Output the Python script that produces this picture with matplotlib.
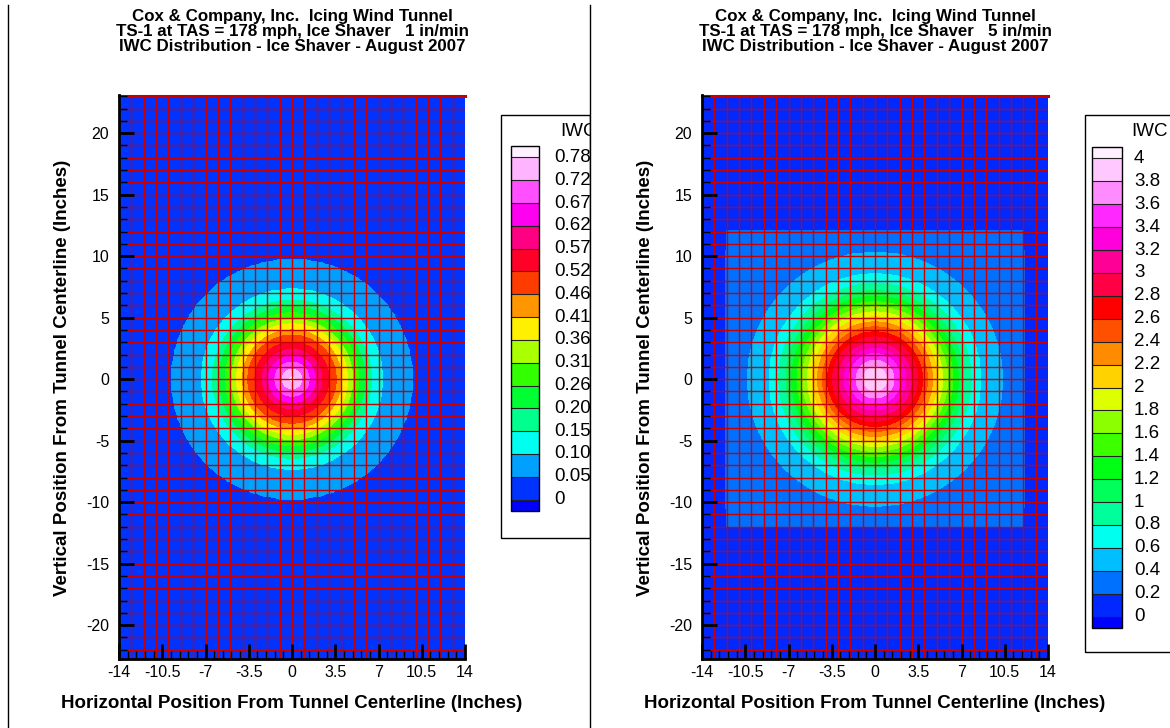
import matplotlib
matplotlib.use("Agg")
import matplotlib.pyplot as plt
import numpy as np
from matplotlib.cm import ScalarMappable
from matplotlib.colors import BoundaryNorm, ListedColormap
from matplotlib.lines import Line2D
from matplotlib.patches import Rectangle
from matplotlib.ticker import FixedLocator, MultipleLocator
from matplotlib.transforms import Bbox, TransformedBbox, blended_transform_factory

plt.rcParams["font.family"] = ["Liberation Sans", "DejaVu Sans"]

W, H = 1170, 728  # figure size in pixels

TITLE_1IN = ("Cox & Company, Inc.  Icing Wind Tunnel\n"
             "TS-1 at TAS = 178 mph, Ice Shaver   1 in/min\n"
             "IWC Distribution - Ice Shaver - August 2007")
TITLE_5IN = ("Cox & Company, Inc.  Icing Wind Tunnel\n"
             "TS-1 at TAS = 178 mph, Ice Shaver   5 in/min\n"
             "IWC Distribution - Ice Shaver - August 2007")
XLABEL = "Horizontal Position From Tunnel Centerline (Inches)"
YLABEL = "Vertical Position From Tunnel Centerline (Inches)"
LEGEND_TITLE = "IWC"

# IWC against radial distance from the tunnel centreline (inches)
R_1IN = [0.0, 0.3, 0.8, 1.4, 1.9, 2.4, 3.0, 3.6, 4.0, 4.5, 4.9, 5.4, 5.9,
         6.4, 7.3, 9.8, 10.5]
IWC_1IN = [0.80, 0.78, 0.728, 0.676, 0.624, 0.572, 0.52, 0.468, 0.416,
           0.364, 0.312, 0.26, 0.208, 0.156, 0.104, 0.052, 0.0]

R_5IN = [0.0, 1.0, 1.54, 2.09, 2.49, 2.95, 3.44, 3.85, 4.25, 4.66, 5.07,
         5.47, 5.88, 6.29, 6.75, 7.18, 7.78, 8.54, 10.3, 12.0, 17.0]
IWC_5IN = [3.95, 3.8, 3.6, 3.4, 3.2, 3.0, 2.8, 2.6, 2.4, 2.2, 2.0, 1.8,
           1.6, 1.4, 1.2, 1.0, 0.8, 0.6, 0.4, 0.3, 0.25]
SURVEY_HALF_5IN = 12.0  # half-width of the surveyed square, 5 in/min run

LEVELS_1IN = [0, 0.052, 0.104, 0.156, 0.208, 0.26, 0.312, 0.364, 0.416,
              0.468, 0.52, 0.572, 0.624, 0.676, 0.728, 0.78]
LEVEL_LABELS_1IN = ["0", "0.052", "0.104", "0.156", "0.208", "0.26",
                    "0.312", "0.364", "0.416", "0.468", "0.52", "0.572",
                    "0.624", "0.676", "0.728", "0.78"]
LEVELS_5IN = [0, 0.2, 0.4, 0.6, 0.8, 1.0, 1.2, 1.4, 1.6, 1.8, 2.0, 2.2,
              2.4, 2.6, 2.8, 3.0, 3.2, 3.4, 3.6, 3.8, 4.0]
LEVEL_LABELS_5IN = ["0", "0.2", "0.4", "0.6", "0.8", "1", "1.2", "1.4",
                    "1.6", "1.8", "2", "2.2", "2.4", "2.6", "2.8", "3",
                    "3.2", "3.4", "3.6", "3.8", "4"]

X_TICKS = [-14, -10.5, -7, -3.5, 0, 3.5, 7, 10.5, 14]
X_TICKLABELS = ["-14", "-10.5", "-7", "-3.5", "0", "3.5", "7", "10.5", "14"]
Y_TICKS = [-20, -15, -10, -5, 0, 5, 10, 15, 20]
Y_TICKLABELS = ["-20", "-15", "-10", "-5", "0", "5", "10", "15", "20"]

# band colours: below-range, one per interval, above-range
COLORS_1IN = ["#0000ff", "#0033ff", "#00a0ff", "#00fff0", "#00ff8c",
              "#00ff32", "#32ff00", "#aaff00", "#fff000", "#ff9600",
              "#ff3c00", "#ff0028", "#ff0082", "#ff00f0", "#ff50ff",
              "#ffb4ff", "#fff0ff"]
COLORS_5IN = ["#0000ff", "#0028ff", "#0070ff", "#00bfff", "#00ffee",
              "#00ff9c", "#00ff5a", "#00ff14", "#3cff00", "#8cff00",
              "#ddff00", "#ffd200", "#ff8c00", "#ff5000", "#ff0000",
              "#ff0046", "#ff0096", "#ff00dc", "#ff28ff", "#ff8cff",
              "#ffc8ff", "#fff0ff"]

MESH_RED = "#c80000"

fig = plt.figure(figsize=(W / 100, H / 100), dpi=100)


def px_box(x0, y0, x1, y1):
    """pixel box (top-left origin) -> figure fraction rect"""
    return [x0 / W, 1 - y1 / H, (x1 - x0) / W, (y1 - y0) / H]


def iwc_field(r_prof, iwc_prof, half_square=None):
    xx, yy = np.meshgrid(np.linspace(-14, 14, 113), np.linspace(-23, 23, 185))
    z = np.interp(np.hypot(xx, yy), r_prof, iwc_prof)
    if half_square is not None:
        z[(np.abs(xx) > half_square) | (np.abs(yy) > half_square)] = 0.0
    return xx, yy, z


def draw_panel(ax_x0, title, field, levels, level_labels, colors,
               leg_box, swatch, label_x, title_x, clip_x):
    cmap = ListedColormap(colors[1:-1])
    cmap.set_under(colors[0])
    cmap.set_over(colors[-1])
    norm = BoundaryNorm(levels, cmap.N)

    ax = fig.add_axes(px_box(ax_x0, 95, ax_x0 + 346, 659))
    ax.set_axisbelow(False)
    xx, yy, z = field
    ax.contourf(xx, yy, z, levels=levels, cmap=cmap, norm=norm, zorder=1)

    # measurement mesh, one line per station so Agg snaps them to pixels
    for xm in range(-13, 14):
        ax.plot([xm, xm], [-23, 23], color=MESH_RED, lw=1.0, zorder=2)
    for ym in range(-22, 23):
        ax.plot([-14, 14], [ym, ym], color=MESH_RED, lw=1.0, zorder=2)
    ax.plot([-14, 14], [23, 23], color=MESH_RED, lw=2.2, zorder=2,
            clip_on=False)

    ax.set_xlim(-14, 14)
    ax.set_ylim(-22.75, 23.1)
    for side in ("top", "right"):
        ax.spines[side].set_visible(False)
    for side in ("left", "bottom"):
        ax.spines[side].set_linewidth(2)
    ax.xaxis.set_major_locator(FixedLocator(X_TICKS))
    ax.set_xticklabels(X_TICKLABELS)
    ax.xaxis.set_minor_locator(MultipleLocator(0.7))
    ax.yaxis.set_major_locator(FixedLocator(Y_TICKS))
    ax.set_yticklabels(Y_TICKLABELS)
    ax.yaxis.set_minor_locator(MultipleLocator(1))
    ax.tick_params(which="major", direction="in", length=11, width=2,
                   labelsize=11.5, color="black")
    ax.tick_params(which="minor", direction="in", length=6, width=1)
    ax.tick_params(axis="y", which="major", pad=7)
    ax.tick_params(axis="x", which="major", pad=4)

    cx = ax_x0 + 173
    fig.text(cx / W, 1 - 9 / H, title, ha="center", va="top",
             fontsize=12.2, fontweight="bold", linespacing=1.0)
    fig.text(cx / W, 1 - 704 / H, XLABEL, ha="center", va="center",
             fontsize=13.5, fontweight="bold")
    fig.text((ax_x0 - 56) / W, 1 - 378 / H, YLABEL, ha="center",
             va="center", rotation=90, fontsize=13.5, fontweight="bold")

    # contour legend
    clip = TransformedBbox(Bbox.from_extents(0, 0, clip_x / W, 1),
                           fig.transFigure)
    lx0, ly0, lx1, ly1 = leg_box
    fig.add_artist(Rectangle((lx0 / W, 1 - ly1 / H), (lx1 - lx0) / W,
                             (ly1 - ly0) / H, transform=fig.transFigure,
                             fill=False, lw=1, ec="black", clip_box=clip))
    cax = fig.add_axes(px_box(*swatch))
    cb = fig.colorbar(ScalarMappable(norm=norm, cmap=cmap), cax=cax,
                      extend="both", extendrect=True,
                      extendfrac=0.5 / (len(levels) - 1), drawedges=True,
                      ticks=levels)
    cb.outline.set_linewidth(1)
    cb.dividers.set_linewidth(0.8)
    cb.dividers.set_color("#222222")
    cax.tick_params(length=0, labelright=False)
    tr = blended_transform_factory(fig.transFigure, cax.transData)
    for lev, lab in zip(levels, level_labels):
        t = fig.text(label_x / W, lev, lab, transform=tr, ha="left",
                     va="center", fontsize=13.5)
        t.set_clip_box(clip)
        t.set_clip_on(True)
    t = fig.text(title_x / W, 1 - 131 / H, LEGEND_TITLE, ha="left",
                 va="center", fontsize=13.5)
    t.set_clip_box(clip)
    t.set_clip_on(True)


draw_panel(119, TITLE_1IN, iwc_field(R_1IN, IWC_1IN), LEVELS_1IN,
           LEVEL_LABELS_1IN, COLORS_1IN, leg_box=(501, 115, 590, 538),
           swatch=(511, 146, 539, 511), label_x=554, title_x=560,
           clip_x=590)
draw_panel(702, TITLE_5IN, iwc_field(R_5IN, IWC_5IN, SURVEY_HALF_5IN),
           LEVELS_5IN, LEVEL_LABELS_5IN, COLORS_5IN,
           leg_box=(1085, 115, 1185, 652), swatch=(1092, 147, 1122, 628),
           label_x=1134, title_x=1131, clip_x=W)

# panel frame lines
for xp in (8, 590):
    fig.add_artist(Line2D([xp / W, xp / W], [0, 1 - 5 / H],
                          transform=fig.transFigure, color="black", lw=1))

fig.savefig("out.png", dpi=100)
